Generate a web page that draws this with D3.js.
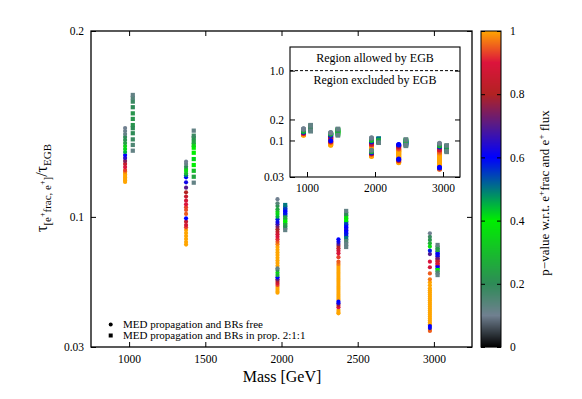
<!DOCTYPE html>
<html><head><meta charset="utf-8">
<script src="https://cdn.jsdelivr.net/npm/d3@7"></script>
<style>body{margin:0;background:#fff}svg{display:block}text{font-family:"Liberation Serif","Times New Roman",serif;fill:#000}</style>
</head><body><svg id="c" width="582" height="399"></svg>
<script>
// ---------------- data ----------------
const masses = [1000, 1400, 2000, 2400, 3000];

// "MED propagation and BRs free" (circles): tau ratio and p-value per mass
const freeTau = [
  [0.1478,0.1462,0.1446,0.1430,0.1414,0.1397,0.1381,0.1365,0.1349,0.1333,0.1317,0.1301,0.1285,0.1268,0.1252,0.1244,0.1236,0.1228,0.1220,0.1212,0.1204,0.1196,0.1188],
  [0.1297,0.1285,0.1270,0.1258,0.1247,0.1234,0.1224,0.1213,0.1186,0.1157,0.1132,0.1109,0.1087,0.1068,0.1052,0.1037,0.1016,0.0992,0.0974,0.0956,0.0944,0.0929,0.0913,0.0897,0.0881,0.0865,0.0851],
  [0.1095,0.1073,0.1059,0.1041,0.1028,0.1016,0.1001,0.0987,0.0972,0.0960,0.0947,0.0933,0.0920,0.0906,0.0893,0.0879,0.0866,0.0853,0.0838,0.0823,0.0809,0.0795,0.0780,0.0766,0.0752,0.0737,0.0723,0.0714,0.0700,0.0687,0.0675,0.0664,0.0655,0.0644,0.0634,0.0623,0.0612,0.0601,0.0592],
  [0.0879,0.0866,0.0854,0.0843,0.0831,0.0818,0.0804,0.0783,0.0759,0.0747,0.0736,0.0725,0.0714,0.0703,0.0693,0.0682,0.0671,0.0661,0.0650,0.0639,0.0628,0.0618,0.0607,0.0596,0.0585,0.0575,0.0564,0.0554,0.0544,0.0535,0.0526,0.0514,0.0499,0.0488,0.0481],
  [0.0912,0.0893,0.0876,0.0858,0.0840,0.0818,0.0800,0.0759,0.0729,0.0696,0.0664,0.0648,0.0632,0.0616,0.0605,0.0594,0.0583,0.0572,0.0561,0.0551,0.0540,0.0529,0.0518,0.0507,0.0497,0.0486,0.0475,0.0464,0.0453,0.0443,0.0432,0.0421,0.0413,0.0402,0.0391,0.0386]
];
const freeP = [
  [0.10,0.11,0.12,0.20,0.22,0.25,0.35,0.42,0.45,0.60,0.65,0.75,0.85,0.90,0.93,0.97,1,1,1,1,1,1,1],
  [0.10,0.12,0.20,0.35,0.40,0.30,0.50,0.60,0.62,0.70,0.80,0.85,0.88,0.90,0.93,0.94,0.95,0.60,0.85,0.88,0.93,1,1,1,1,1,1],
  [0.10,0.14,0.22,0.26,0.35,0.42,0.45,0.58,0.62,0.68,0.75,0.80,0.85,0.88,0.90,0.92,0.95,0.98,1,1,1,1,1,1,1,1,0.12,0.22,0.38,0.28,0.60,0.72,0.82,0.88,0.93,1,1,1,1],
  [0.60,0.62,0.70,0.80,0.85,0.88,0.90,0.93,0.95,0.97,1,1,1,1,1,1,1,1,1,1,1,1,1,1,1,1,1,1,0.60,0.65,0.80,0.90,1,1,1],
  [0.10,0.18,0.22,0.28,0.38,0.58,0.70,0.90,0.88,0.95,0.97,1,1,1,1,1,1,1,1,1,1,1,1,1,1,1,1,1,1,1,1,1,0.60,0.62,1,0.95]
];

// "MED propagation and BRs in prop. 2:1:1" (squares)
const propTau = [
  [0.1656,0.1640,0.1620,0.1590,0.1557,0.1527,0.1494,0.1477,0.1450,0.1417,0.1387,0.1356],
  [0.1464,0.1437,0.1424,0.1404,0.1387,0.1372,0.1345,0.1311,0.1279,0.1248,0.1216,0.1184],
  [0.1064,0.1050,0.1037,0.1024,0.1010,0.0997,0.0983,0.0970,0.0956,0.0943,0.0929],
  [0.1032,0.1016,0.1000,0.0983,0.0967,0.0951,0.0935,0.0919,0.0903,0.0886,0.0870,0.0854,0.0838],
  [0.0849,0.0835,0.0822,0.0808,0.0795,0.0781,0.0768,0.0755,0.0741,0.0728,0.0714,0.0701,0.0687]
];
const propP = [
  [0.12,0.14,0.18,0.20,0.22,0.22,0.22,0.20,0.20,0.18,0.15,0.12],
  [0.12,0.18,0.22,0.25,0.35,0.40,0.40,0.42,0.40,0.30,0.25,0.12],
  [0.50,0.55,0.60,0.60,0.58,0.25,0.40,0.40,0.25,0.20,0.12],
  [0.12,0.20,0.38,0.40,0.55,0.60,0.62,0.60,0.58,0.50,0.15,0.12,0.12],
  [0.12,0.22,0.25,0.60,0.62,0.72,0.85,0.88,0.90,0.60,0.40,0.15,0.12]
];

const xTicks = [1000, 1500, 2000, 2500, 3000];
const yTicks = [0.03, 0.1, 0.2];
const insetXTicks = [1000, 2000, 3000];
const insetYTicks = [0.03, 0.1, 0.2, 1.0];
const insetYLabels = ["0.03", "0.1", "0.2", "1.0"];
const cbTicks = [0, 0.2, 0.4, 0.6, 0.8, 1];
const cbStops = [0, 0.1, 0.2, 0.4, 0.6, 0.7, 0.8, 0.9, 1];
const cbColors = ["#000000","#708090","#2e8b57","#00ee00","#0000ff","#551a8b","#b22222","#dc143c","#ffa500"];
const legendLabels = ["MED propagation and BRs free", "MED propagation and BRs in prop. 2:1:1"];

// ---------------- build ----------------
const svg = d3.select("#c");
const M = {l: 91, r: 472, t: 31, b: 347};
const x = d3.scaleLinear([750, 3250], [M.l, M.r]);
const y = d3.scaleLinear([0.03, 0.2], [M.b, M.t]);
const color = d3.scaleLinear(cbStops, cbColors).clamp(true);

const pts = [];
masses.forEach((m, i) => {
  freeTau[i].forEach((t, j) => pts.push({m, t, p: freeP[i][j], k: "free"}));
  propTau[i].forEach((t, j) => pts.push({m, t, p: propP[i][j], k: "prop"}));
});
pts.sort((a, b) => b.p - a.p);

function styleAxis(g, fs) {
  g.select(".domain").remove();
  g.attr("font-family", null).attr("font-size", null);
  g.selectAll("line").attr("stroke", "#000");
  g.selectAll("text").attr("fill", "#000").style("font-size", fs || "11.5px");
}

// main points
const gp = svg.append("g");
gp.selectAll("circle").data(pts.filter(d => d.k === "free")).join("circle")
  .attr("cx", d => x(d.m) - 4).attr("cy", d => y(d.t)).attr("r", 2.1)
  .attr("fill", d => color(d.p));
gp.selectAll("rect").data(pts.filter(d => d.k === "prop")).join("rect")
  .attr("x", d => x(d.m) + 3.7 - 2.1).attr("y", d => y(d.t) - 2.1)
  .attr("width", 4.2).attr("height", 4.2).attr("fill", d => color(d.p));

// main axes
svg.append("g").attr("transform", `translate(0,${M.b})`)
  .call(d3.axisBottom(x).tickValues(xTicks).tickSizeInner(-5).tickSizeOuter(0).tickPadding(8).tickFormat(d3.format("d")))
  .call(g => styleAxis(g));
svg.append("g").attr("transform", `translate(0,${M.t})`)
  .call(d3.axisTop(x).tickValues(xTicks).tickSizeInner(-5).tickSizeOuter(0).tickFormat(""))
  .call(g => styleAxis(g));
svg.append("g").attr("transform", `translate(${M.l},0)`)
  .call(d3.axisLeft(y).tickValues(yTicks).tickSizeInner(-5).tickSizeOuter(0).tickPadding(7).tickFormat(d => String(d)))
  .call(g => styleAxis(g));
svg.append("g").attr("transform", `translate(${M.r},0)`)
  .call(d3.axisRight(y).tickValues(yTicks).tickSizeInner(-5).tickSizeOuter(0).tickFormat(""))
  .call(g => styleAxis(g));
svg.append("rect").attr("x", M.l).attr("y", M.t).attr("width", M.r - M.l).attr("height", M.b - M.t)
  .attr("fill", "none").attr("stroke", "#000").attr("stroke-width", 1.3);

// axis titles
svg.append("text").attr("x", 282).attr("y", 382).attr("text-anchor", "middle").style("font-size", "16px").text("Mass [GeV]");
const yl = svg.append("text").attr("transform", "translate(47,188) rotate(-90)").attr("text-anchor", "middle").style("font-size", "16px");
yl.append("tspan").text("τ");
yl.append("tspan").attr("dy", 4).style("font-size", "11px").text("[e");
yl.append("tspan").attr("dy", -6).style("font-size", "8px").text("+");
yl.append("tspan").attr("dy", 6).style("font-size", "11px").text("frac, e");
yl.append("tspan").attr("dy", -6).style("font-size", "8px").text("+");
yl.append("tspan").attr("dy", 6).style("font-size", "11px").text("]");
yl.append("tspan").attr("dy", -4).text("/τ");
yl.append("tspan").attr("dy", 4).style("font-size", "11px").text("EGB");

// legend
const lg = svg.append("g");
legendLabels.forEach((lab, i) => {
  const cy = 324.5 + i * 11;
  if (i === 0) lg.append("circle").attr("cx", 110.7).attr("cy", cy).attr("r", 2).attr("fill", "#000");
  else lg.append("rect").attr("x", 108.7).attr("y", cy - 2).attr("width", 4).attr("height", 4).attr("fill", "#000");
  lg.append("text").attr("x", 123).attr("y", cy + 3.6).style("font-size", "11px").text(lab);
});

// ---------------- inset ----------------
const I = {l: 290, r: 460, t: 47, b: 177};
const xi = d3.scaleLinear([750, 3250], [I.l, I.r]);
const yi = d3.scaleLog([0.03, 2.18], [I.b, I.t]);
svg.append("rect").attr("x", I.l).attr("y", I.t).attr("width", I.r - I.l).attr("height", I.b - I.t).attr("fill", "#fff");
const gi = svg.append("g");
gi.selectAll("circle").data(pts.filter(d => d.k === "free")).join("circle")
  .attr("cx", d => xi(d.m) - 3.5).attr("cy", d => yi(d.t)).attr("r", 2.5)
  .attr("fill", d => color(d.p));
gi.selectAll("rect").data(pts.filter(d => d.k === "prop")).join("rect")
  .attr("x", d => xi(d.m) + 3.7 - 2.3).attr("y", d => yi(d.t) - 2.3)
  .attr("width", 4.6).attr("height", 4.6).attr("fill", d => color(d.p));
svg.append("g").attr("transform", `translate(0,${I.b})`)
  .call(d3.axisBottom(xi).tickValues(insetXTicks).tickSizeInner(-5).tickSizeOuter(0).tickPadding(7).tickFormat(d3.format("d")))
  .call(g => styleAxis(g));
svg.append("g").attr("transform", `translate(${I.l},0)`)
  .call(d3.axisLeft(yi).tickValues(insetYTicks).tickSizeInner(-5).tickSizeOuter(0).tickPadding(6).tickFormat((d, i) => insetYLabels[i]))
  .call(g => styleAxis(g));
svg.append("g").attr("transform", `translate(${I.r},0)`)
  .call(d3.axisRight(yi).tickValues(insetYTicks).tickSizeInner(-5).tickSizeOuter(0).tickFormat(""))
  .call(g => styleAxis(g));
svg.append("line").attr("x1", I.l).attr("x2", I.r).attr("y1", yi(1)).attr("y2", yi(1))
  .attr("stroke", "#000").attr("stroke-width", 1).attr("stroke-dasharray", "3,2");
svg.append("text").attr("x", (I.l + I.r) / 2).attr("y", 62).attr("text-anchor", "middle").style("font-size", "12px").text("Region allowed by EGB");
svg.append("text").attr("x", (I.l + I.r) / 2).attr("y", 84).attr("text-anchor", "middle").style("font-size", "12px").text("Region excluded by EGB");
svg.append("rect").attr("x", I.l).attr("y", I.t).attr("width", I.r - I.l).attr("height", I.b - I.t)
  .attr("fill", "none").attr("stroke", "#000").attr("stroke-width", 1.1);

// ---------------- colorbar ----------------
const C = {l: 481, r: 501, t: 31, b: 347};
const cy = d3.scaleLinear([0, 1], [C.b, C.t]);
const cbSteps = d3.range(C.t, C.b, 1);
svg.append("g").selectAll("rect").data(cbSteps).join("rect")
  .attr("x", C.l).attr("y", d => d).attr("width", C.r - C.l).attr("height", 1.2)
  .attr("fill", d => color(cy.invert(d + 0.5)));
svg.append("g").attr("transform", `translate(${C.r},0)`)
  .call(d3.axisRight(cy).tickValues(cbTicks).tickSizeInner(-4).tickSizeOuter(0).tickPadding(9).tickFormat(d => String(d)))
  .call(g => styleAxis(g));
svg.append("g").attr("transform", `translate(${C.l},0)`)
  .call(d3.axisLeft(cy).tickValues(cbTicks).tickSizeInner(-4).tickSizeOuter(0).tickFormat(""))
  .call(g => styleAxis(g));
svg.append("rect").attr("x", C.l).attr("y", C.t).attr("width", C.r - C.l).attr("height", C.b - C.t)
  .attr("fill", "none").attr("stroke", "#000").attr("stroke-width", 1);
const cl = svg.append("text").attr("transform", "translate(549,193) rotate(-90)").attr("text-anchor", "middle").style("font-size", "13px");
cl.append("tspan").text("p−value w.r.t. e");
cl.append("tspan").attr("dy", -5).style("font-size", "9px").text("+");
cl.append("tspan").attr("dy", 5).text("frac and e");
cl.append("tspan").attr("dy", -5).style("font-size", "9px").text("+");
cl.append("tspan").attr("dy", 5).text(" flux");
</script></body></html>
